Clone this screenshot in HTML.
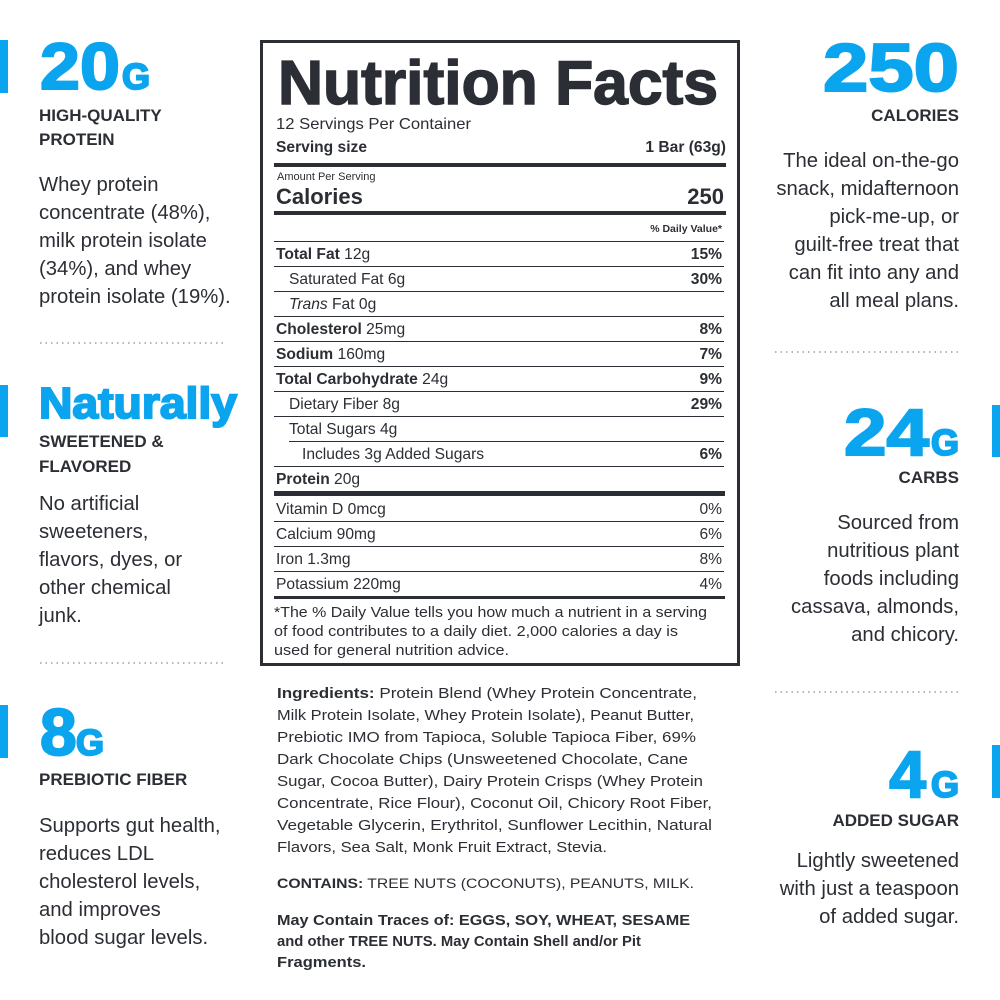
<!DOCTYPE html>
<html><head><meta charset="utf-8"><style>
html,body{margin:0;padding:0;background:#fff;}
svg{display:block;}
text{font-family:"Liberation Sans",Arial,sans-serif;fill:#2b2e34;}
.b{font-weight:bold;}
.blue{fill:#0ba4ee;stroke:#0ba4ee;stroke-width:2;}
.side{font-size:20.3px;}
.hd{font-size:17px;font-weight:bold;}
.n{font-size:15.6px;}
.ing{font-size:14.3px;}
</style></head><body>
<svg width="1000" height="1000" viewBox="0 0 1000 1000" xmlns="http://www.w3.org/2000/svg">
<rect width="1000" height="1000" fill="#fff"/>
<rect x="0" y="40" width="8" height="53" fill="#0ba4ee"/>
<rect x="0" y="385" width="8" height="52" fill="#0ba4ee"/>
<rect x="0" y="705" width="8" height="53" fill="#0ba4ee"/>
<rect x="992" y="405" width="8" height="52" fill="#0ba4ee"/>
<rect x="992" y="745" width="8" height="53" fill="#0ba4ee"/>

<!-- LEFT COLUMN -->
<text x="40" y="89" class="b blue" style="font-size:66px" textLength="80" lengthAdjust="spacingAndGlyphs">20</text>
<text x="122" y="89" class="b blue" style="font-size:36px">G</text>
<text x="39" y="121" class="hd">HIGH-QUALITY</text>
<text x="39" y="145" class="hd">PROTEIN</text>
<g class="side">
<text x="39" y="191">Whey protein</text>
<text x="39" y="219">concentrate (48%),</text>
<text x="39" y="247">milk protein isolate</text>
<text x="39" y="275">(34%), and whey</text>
<text x="39" y="303">protein isolate (19%).</text>
</g>
<line x1="40" y1="343" x2="226" y2="343" stroke="#9aa0a6" stroke-width="1.5" stroke-dasharray="1.5 4"/>
<text x="39" y="418" class="b blue" style="font-size:44px" textLength="198" lengthAdjust="spacingAndGlyphs">Naturally</text>
<text x="39" y="447" class="hd">SWEETENED &amp;</text>
<text x="39" y="472" class="hd">FLAVORED</text>
<g class="side">
<text x="39" y="510">No artificial</text>
<text x="39" y="538">sweeteners,</text>
<text x="39" y="566">flavors, dyes, or</text>
<text x="39" y="594">other chemical</text>
<text x="39" y="622">junk.</text>
</g>
<line x1="40" y1="663" x2="226" y2="663" stroke="#9aa0a6" stroke-width="1.5" stroke-dasharray="1.5 4"/>
<text x="40" y="755" class="b blue" style="font-size:66px">8</text>
<text x="76" y="755" class="b blue" style="font-size:36px">G</text>
<text x="39" y="785" class="hd">PREBIOTIC FIBER</text>
<g class="side">
<text x="39" y="832">Supports gut health,</text>
<text x="39" y="860">reduces LDL</text>
<text x="39" y="888">cholesterol levels,</text>
<text x="39" y="916">and improves</text>
<text x="39" y="944">blood sugar levels.</text>
</g>

<!-- RIGHT COLUMN -->
<g text-anchor="end">
<text x="959" y="91" class="b blue" style="font-size:68px" textLength="136" lengthAdjust="spacingAndGlyphs">250</text>
<text x="959" y="121" class="hd">CALORIES</text>
<g class="side">
<text x="959" y="167">The ideal on-the-go</text>
<text x="959" y="195">snack, midafternoon</text>
<text x="959" y="223">pick-me-up, or</text>
<text x="959" y="251">guilt-free treat that</text>
<text x="959" y="279">can fit into any and</text>
<text x="959" y="307">all meal plans.</text>
</g>
<text x="929" y="455" class="b blue" style="font-size:66px" textLength="85" lengthAdjust="spacingAndGlyphs">24</text>
<text x="959" y="455" class="b blue" style="font-size:36px">G</text>
<text x="959" y="483" class="hd">CARBS</text>
<g class="side">
<text x="959" y="529">Sourced from</text>
<text x="959" y="557">nutritious plant</text>
<text x="959" y="585">foods including</text>
<text x="959" y="613">cassava, almonds,</text>
<text x="959" y="641">and chicory.</text>
</g>
<text x="926" y="797" class="b blue" style="font-size:66px">4</text>
<text x="959" y="797" class="b blue" style="font-size:36px">G</text>
<text x="959" y="826" class="hd">ADDED SUGAR</text>
<g class="side">
<text x="959" y="867">Lightly sweetened</text>
<text x="959" y="895">with just a teaspoon</text>
<text x="959" y="923">of added sugar.</text>
</g>
</g>
<line x1="775" y1="352" x2="961" y2="352" stroke="#9aa0a6" stroke-width="1.5" stroke-dasharray="1.5 4"/>
<line x1="775" y1="692" x2="961" y2="692" stroke="#9aa0a6" stroke-width="1.5" stroke-dasharray="1.5 4"/>

<!-- NUTRITION LABEL -->
<rect x="261.5" y="41.5" width="477" height="623" fill="none" stroke="#2b2e34" stroke-width="3"/>
<text x="278" y="104" class="b" style="font-size:62px;stroke:#2b2e34;stroke-width:1.5" textLength="440" lengthAdjust="spacingAndGlyphs">Nutrition Facts</text>
<text x="276" y="129" class="n" textLength="195" lengthAdjust="spacingAndGlyphs">12 Servings Per Container</text>
<text x="276" y="152" class="n b">Serving size</text>
<text x="726" y="152" class="n b" text-anchor="end">1 Bar (63g)</text>
<rect x="274" y="163" width="452" height="4" fill="#2b2e34"/>
<text x="277" y="180" style="font-size:11px">Amount Per Serving</text>
<text x="276" y="204" class="b" style="font-size:22px">Calories</text>
<text x="724" y="204" class="b" style="font-size:22px" text-anchor="end">250</text>
<rect x="274" y="211" width="452" height="4" fill="#2b2e34"/>
<text x="722" y="232" class="b" style="font-size:10.5px" text-anchor="end">% Daily Value*</text>
<g stroke="#2b2e34" stroke-width="1">
<line x1="274" y1="241.5" x2="724" y2="241.5"/>
<line x1="274" y1="266.5" x2="724" y2="266.5"/>
<line x1="274" y1="291.5" x2="724" y2="291.5"/>
<line x1="274" y1="316.5" x2="724" y2="316.5"/>
<line x1="274" y1="341.5" x2="724" y2="341.5"/>
<line x1="274" y1="366.5" x2="724" y2="366.5"/>
<line x1="274" y1="391.5" x2="724" y2="391.5"/>
<line x1="274" y1="416.5" x2="724" y2="416.5"/>
<line x1="289" y1="441.5" x2="724" y2="441.5"/>
<line x1="274" y1="466.5" x2="724" y2="466.5"/>
<line x1="274" y1="521.5" x2="724" y2="521.5"/>
<line x1="274" y1="546.5" x2="724" y2="546.5"/>
<line x1="274" y1="571.5" x2="724" y2="571.5"/>
</g>
<rect x="274" y="491" width="451" height="5" fill="#2b2e34"/>
<rect x="274" y="596" width="451" height="3" fill="#2b2e34"/>
<g class="n">
<text x="276" y="259"><tspan class="b">Total Fat</tspan> 12g</text>
<text x="722" y="259" class="b" text-anchor="end">15%</text>
<text x="289" y="284">Saturated Fat 6g</text>
<text x="722" y="284" class="b" text-anchor="end">30%</text>
<text x="289" y="309"><tspan font-style="italic">Trans</tspan> Fat 0g</text>
<text x="276" y="334"><tspan class="b">Cholesterol</tspan> 25mg</text>
<text x="722" y="334" class="b" text-anchor="end">8%</text>
<text x="276" y="359"><tspan class="b">Sodium</tspan> 160mg</text>
<text x="722" y="359" class="b" text-anchor="end">7%</text>
<text x="276" y="384"><tspan class="b">Total Carbohydrate</tspan> 24g</text>
<text x="722" y="384" class="b" text-anchor="end">9%</text>
<text x="289" y="409">Dietary Fiber 8g</text>
<text x="722" y="409" class="b" text-anchor="end">29%</text>
<text x="289" y="434">Total Sugars 4g</text>
<text x="302" y="459">Includes 3g Added Sugars</text>
<text x="722" y="459" class="b" text-anchor="end">6%</text>
<text x="276" y="484"><tspan class="b">Protein</tspan> 20g</text>
<text x="276" y="514">Vitamin D 0mcg</text>
<text x="722" y="514" text-anchor="end">0%</text>
<text x="276" y="539">Calcium 90mg</text>
<text x="722" y="539" text-anchor="end">6%</text>
<text x="276" y="564">Iron 1.3mg</text>
<text x="722" y="564" text-anchor="end">8%</text>
<text x="276" y="589">Potassium 220mg</text>
<text x="722" y="589" text-anchor="end">4%</text>
</g>
<g style="font-size:14.5px">
<text x="274" y="617" textLength="433" lengthAdjust="spacingAndGlyphs">*The % Daily Value tells you how much a nutrient in a serving</text>
<text x="274" y="636" textLength="404" lengthAdjust="spacingAndGlyphs">of food contributes to a daily diet. 2,000 calories a day is</text>
<text x="274" y="655" textLength="235" lengthAdjust="spacingAndGlyphs">used for general nutrition advice.</text>
</g>

<!-- INGREDIENTS -->
<g class="ing">
<text x="277" y="698" textLength="420" lengthAdjust="spacingAndGlyphs"><tspan class="b">Ingredients:</tspan> Protein Blend (Whey Protein Concentrate,</text>
<text x="277" y="720" textLength="417" lengthAdjust="spacingAndGlyphs">Milk Protein Isolate, Whey Protein Isolate), Peanut Butter,</text>
<text x="277" y="742" textLength="419" lengthAdjust="spacingAndGlyphs">Prebiotic IMO from Tapioca, Soluble Tapioca Fiber, 69%</text>
<text x="277" y="764" textLength="411" lengthAdjust="spacingAndGlyphs">Dark Chocolate Chips (Unsweetened Chocolate, Cane</text>
<text x="277" y="786" textLength="426" lengthAdjust="spacingAndGlyphs">Sugar, Cocoa Butter), Dairy Protein Crisps (Whey Protein</text>
<text x="277" y="808" textLength="435" lengthAdjust="spacingAndGlyphs">Concentrate, Rice Flour), Coconut Oil, Chicory Root Fiber,</text>
<text x="277" y="830" textLength="435" lengthAdjust="spacingAndGlyphs">Vegetable Glycerin, Erythritol, Sunflower Lecithin, Natural</text>
<text x="277" y="852" textLength="330" lengthAdjust="spacingAndGlyphs">Flavors, Sea Salt, Monk Fruit Extract, Stevia.</text>
<text x="277" y="888" style="font-size:13.5px" textLength="417" lengthAdjust="spacingAndGlyphs"><tspan class="b">CONTAINS:</tspan> TREE NUTS (COCONUTS), PEANUTS, MILK.</text>
<text x="277" y="925" class="b" textLength="413" lengthAdjust="spacingAndGlyphs">May Contain Traces of: EGGS, SOY, WHEAT, SESAME</text>
<text x="277" y="946" class="b" textLength="364" lengthAdjust="spacingAndGlyphs">and other TREE NUTS. May Contain Shell and/or Pit</text>
<text x="277" y="967" class="b" textLength="89" lengthAdjust="spacingAndGlyphs">Fragments.</text>
</g>
</svg>
</body></html>
